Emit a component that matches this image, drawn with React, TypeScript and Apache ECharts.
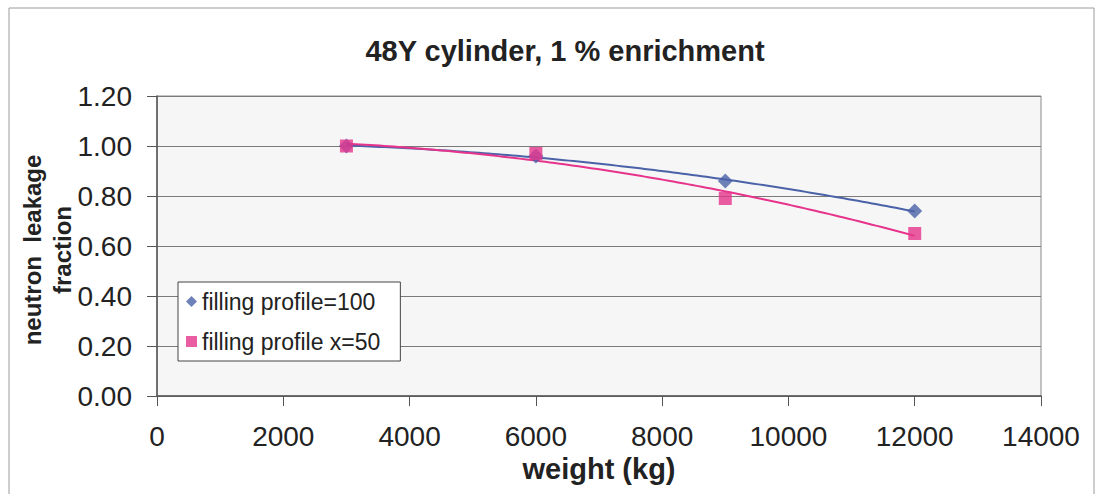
import React, { useEffect, useRef } from "react";
import * as echarts from "echarts";

// Measured points: fuel weight (kg) vs. neutron leakage fraction
const weights = [3000, 6000, 9000, 12000];
const profile100 = [1.0, 0.96, 0.86, 0.74];
const profileX50 = [1.0, 0.97, 0.79, 0.65];

const yTicks = [0, 0.2, 0.4, 0.6, 0.8, 1.0, 1.2];
const xTicks = [0, 2000, 4000, 6000, 8000, 10000, 12000, 14000];

const seriesNames = ["filling profile=100", "filling profile x=50"];
const colors = ["#4b62a8", "#e6348c"];

// Second-order least-squares trendline through the measured points
function quadFit(xs: number[], ys: number[]) {
  const s = (p: number, q: number) =>
    xs.reduce((acc, x, i) => acc + Math.pow(x / 1000, p) * Math.pow(ys[i], q), 0);
  const A = [
    [s(4, 0), s(3, 0), s(2, 0)],
    [s(3, 0), s(2, 0), s(1, 0)],
    [s(2, 0), s(1, 0), s(0, 0)],
  ];
  const b = [s(2, 1), s(1, 1), s(0, 1)];
  const n = 3;
  const M = A.map((row, i) => [...row, b[i]]);
  for (let c = 0; c < n; c++) {
    let p = c;
    for (let r = c + 1; r < n; r++) if (Math.abs(M[r][c]) > Math.abs(M[p][c])) p = r;
    [M[c], M[p]] = [M[p], M[c]];
    for (let r = c + 1; r < n; r++) {
      const f = M[r][c] / M[c][c];
      for (let k = c; k <= n; k++) M[r][k] -= f * M[c][k];
    }
  }
  const coef = [0, 0, 0];
  for (let r = n - 1; r >= 0; r--) {
    let v = M[r][n];
    for (let k = r + 1; k < n; k++) v -= M[r][k] * coef[k];
    coef[r] = v / M[r][r];
  }
  return (x: number) => {
    const t = x / 1000;
    return coef[0] * t * t + coef[1] * t + coef[2];
  };
}

function trend(xs: number[], ys: number[]) {
  const f = quadFit(xs, ys);
  const lo = xs[0];
  const hi = xs[xs.length - 1];
  const out: number[][] = [];
  const steps = 60;
  for (let i = 0; i <= steps; i++) {
    const x = lo + ((hi - lo) * i) / steps;
    out.push([x, f(x)]);
  }
  return out;
}

const font = "Arial, 'Liberation Sans', Helvetica, sans-serif";

export default function App() {
  const ref = useRef<HTMLDivElement>(null);

  useEffect(() => {
    document.body.style.margin = "0";
    if (!ref.current) return;
    const chart = echarts.init(ref.current, undefined, { renderer: "svg" });
    const pts1 = weights.map((w, i) => [w, profile100[i]]);
    const pts2 = weights.map((w, i) => [w, profileX50[i]]);
    chart.setOption({
      animation: false,
      backgroundColor: "#ffffff",
      title: {
        text: "48Y cylinder, 1 % enrichment",
        left: 560,
        top: 31,
        textAlign: "center",
        textStyle: { fontFamily: font, fontSize: 29, fontWeight: "bold", color: "#222" },
      },
      grid: {
        left: 157,
        right: 57,
        top: 96,
        bottom: 98,
        show: true,
        backgroundColor: "#f6f6f6",
        borderColor: "#8a8a8a",
        borderWidth: 1,
      },
      xAxis: {
        type: "value",
        min: xTicks[0],
        max: xTicks[xTicks.length - 1],
        interval: 2000,
        name: "weight (kg)",
        nameLocation: "middle",
        nameGap: 57,
        nameTextStyle: { fontFamily: font, fontSize: 29, fontWeight: "bold", color: "#222" },
        axisLine: { show: true, lineStyle: { color: "#555", width: 1.5 } },
        axisTick: { show: true, length: 10, lineStyle: { color: "#555" } },
        axisLabel: {
          fontFamily: font,
          fontSize: 28,
          color: "#222",
          margin: 26,
          formatter: (v: number) => String(v),
        },
        splitLine: { show: false },
      },
      yAxis: {
        type: "value",
        min: yTicks[0],
        max: yTicks[yTicks.length - 1],
        interval: 0.2,
        axisLine: { show: true, lineStyle: { color: "#555", width: 1.5 } },
        axisTick: { show: true, length: 10, lineStyle: { color: "#555" } },
        axisLabel: {
          fontFamily: font,
          fontSize: 28,
          color: "#222",
          margin: 25,
          formatter: (v: number) => v.toFixed(2),
        },
        splitLine: { show: true, lineStyle: { color: "#7a7a7a", width: 1 } },
      },
      legend: {
        orient: "vertical",
        left: 178,
        top: 282,
        data: [
          { name: seriesNames[0], icon: "diamond" },
          { name: seriesNames[1], icon: "rect" },
        ],
        itemWidth: 11,
        itemHeight: 11,
        itemGap: 17,
        padding: [8, 20, 8, 8],
        backgroundColor: "#ffffff",
        borderColor: "#444",
        borderWidth: 1,
        textStyle: { fontFamily: font, fontSize: 23, color: "#222" },
      },
      graphic: [
        {
          type: "rect",
          shape: { x: 9, y: 8, width: 1085, height: 500 },
          style: { fill: "none", stroke: "#9a9a9a", lineWidth: 1 },
          silent: true,
          z: -10,
        },
        {
          type: "text",
          x: 47,
          y: 250,
          rotation: Math.PI / 2,
          style: {
            text: "neutron  leakage\nfraction",
            fontFamily: font,
            fontSize: 24,
            fontWeight: "bold",
            fill: "#222",
            align: "center",
            verticalAlign: "middle",
            lineHeight: 30,
          },
        },
      ],
      series: [
        {
          name: seriesNames[0] + " trend",
          type: "line",
          data: trend(weights, profile100),
          showSymbol: false,
          smooth: true,
          lineStyle: { color: colors[0], width: 2 },
          z: 2,
        },
        {
          name: seriesNames[1] + " trend",
          type: "line",
          data: trend(weights, profileX50),
          showSymbol: false,
          smooth: true,
          lineStyle: { color: colors[1], width: 2 },
          z: 2,
        },
        {
          name: seriesNames[0],
          type: "scatter",
          data: pts1,
          symbol: "diamond",
          symbolSize: 15,
          itemStyle: { color: colors[0] },
          z: 3,
        },
        {
          name: seriesNames[1],
          type: "scatter",
          data: pts2,
          symbol: "rect",
          symbolSize: 13,
          itemStyle: { color: colors[1] },
          z: 4,
        },
      ],
    });
    return () => chart.dispose();
  }, []);

  return <div ref={ref} style={{ width: 1098, height: 494 }} />;
}
